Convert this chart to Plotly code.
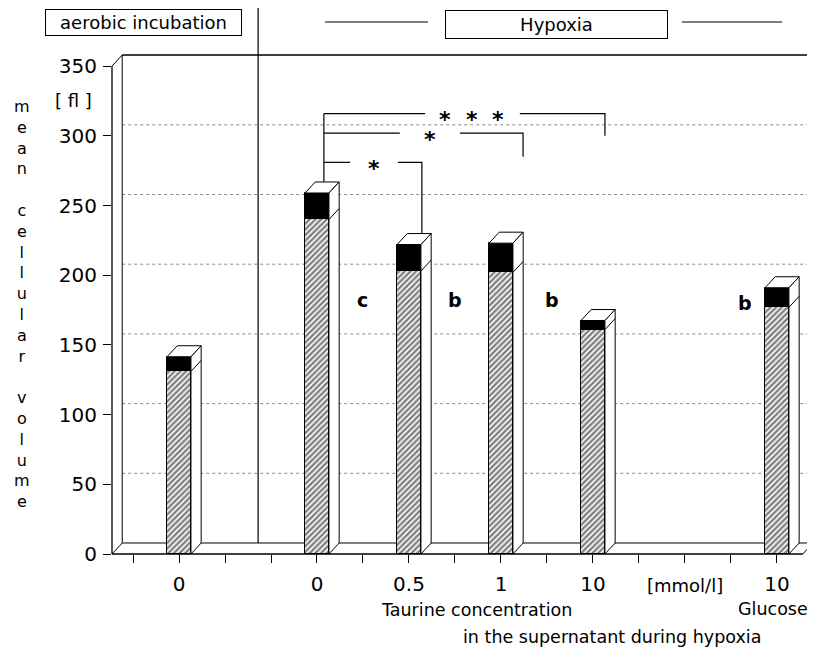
import plotly.graph_objects as go

# ---------------- data ----------------
bar_pos = [1, 4, 6, 8, 10, 14]                 # category slots along the x axis
bar_mean = [131, 240, 203, 202, 161, 177]      # hatched part (mean cell volume, fl)
bar_err = [10.5, 19, 19, 21, 6.5, 14]          # black cap on top of each bar
x_tick_pos = list(range(15))
x_tick_text = ["", "0", "", "", "0", "", "0.5", "", "1", "", "10", "", "", "", "10"]
y_tick_vals = [0, 50, 100, 150, 200, 250, 300, 350]
grid_vals = [50, 100, 150, 200, 250, 300]
letters = ["c", "b", "b", "b"]
letter_x = [5.0, 7.0, 9.1, 13.3]
letter_y = [182, 182, 182, 180]
# significance brackets (from the 0 mmol/l hypoxia bar)
br_left_x = 4.15
br_left_bottom = 267
br_y = [281, 302, 316]
br_right_x = [6.28, 8.48, 10.26]
br_right_bottom = [230, 285, 300]
br_gap = [(4.72, 5.76), (5.80, 7.11), (6.35, 8.41)]
star_x = [[5.24], [6.46], [6.78, 7.37, 7.93]]

# ---------------- geometry / style ----------------
PAGE_OFF = 8                     # default body margin of the html page
W, H = 815 - PAGE_OFF, 652 - PAGE_OFF
L, R, T, B = 112 - PAGE_OFF, 2, 55 - PAGE_OFF, 98
XMIN, XMAX = -0.4565, 14.783
YMAX = 358.0
DX, DY = 0.222, 7.9      # 3-D depth offset
BW = 0.52
FONT = "DejaVu Sans"


def px(x):
    return (x - XMIN) / (XMAX - XMIN)


def py(y):
    return y / YMAX


fig = go.Figure()

# bars (front faces)
fig.add_trace(go.Bar(
    x=bar_pos, y=bar_mean, width=BW,
    marker=dict(color="white", line=dict(color="black", width=1),
                pattern=dict(shape="/", fgcolor="black", bgcolor="white",
                             size=4, solidity=0.6)),
    showlegend=False, hoverinfo="skip"))
fig.add_trace(go.Bar(
    x=bar_pos, y=bar_err, base=bar_mean, width=BW,
    marker=dict(color="black", line=dict(color="black", width=1)),
    showlegend=False, hoverinfo="skip"))

# 3-D top and side faces
for xc, m, e in zip(bar_pos, bar_mean, bar_err):
    top = m + e
    xl, xr = xc - BW / 2, xc + BW / 2
    fig.add_trace(go.Scatter(
        x=[xl, xr, xr + DX, xl + DX, xl], y=[top, top, top + DY, top + DY, top],
        fill="toself", fillcolor="white", mode="lines",
        line=dict(color="black", width=1), showlegend=False, hoverinfo="skip"))
    fig.add_trace(go.Scatter(
        x=[xr, xr, xr + DX, xr + DX, xr], y=[0, top, top + DY, DY, 0],
        fill="toself", fillcolor="white", mode="lines",
        line=dict(color="black", width=1), showlegend=False, hoverinfo="skip"))
    fig.add_trace(go.Scatter(
        x=[xr, xr + DX], y=[m, m + DY], mode="lines",
        line=dict(color="black", width=1), showlegend=False, hoverinfo="skip"))

# significance brackets
bx, by = [br_left_x, br_left_x, None], [br_left_bottom, br_y[-1], None]
for yb, xr_, yd, (g0, g1) in zip(br_y, br_right_x, br_right_bottom, br_gap):
    bx += [br_left_x, g0, None, g1, xr_, xr_, None]
    by += [yb, yb, None, yb, yb, yd, None]
fig.add_trace(go.Scatter(x=bx, y=by, mode="lines", line=dict(color="black", width=1.2),
                         showlegend=False, hoverinfo="skip"))

annotations = []
for yb, xs in zip(br_y, star_x):
    for sx in xs:
        annotations.append(dict(x=sx, y=yb, xref="x", yref="y", text="<b>*</b>",
                                showarrow=False, yshift=-6, xanchor="center", yanchor="middle",
                                font=dict(family=FONT, size=22, color="black")))
for t, lx, ly in zip(letters, letter_x, letter_y):
    annotations.append(dict(x=lx, y=ly, xref="x", yref="y", text="<b>" + t + "</b>",
                            showarrow=False, xanchor="center", yanchor="middle",
                            font=dict(family=FONT, size=19, color="black")))

# ---------------- frame (shapes in paper coords) ----------------
shapes = []


def seg(x0, y0, x1, y1, dash="solid", color="black", width=1):
    shapes.append(dict(type="line", xref="paper", yref="paper",
                       x0=px(x0), y0=py(y0), x1=px(x1), y1=py(y1),
                       line=dict(color=color, width=width, dash=dash), layer="below"))


# back-wall gridlines
for g in grid_vals:
    seg(XMIN + DX, g + DY, XMAX, g + DY, dash="dot", color="#8a8a8a", width=1)
# front y axis + back wall
seg(XMIN, 0, XMIN, 350, width=1.3)
seg(XMIN, 350, XMIN + DX, YMAX)
seg(XMIN + DX, DY, XMIN + DX, YMAX)
seg(XMIN + DX, YMAX, XMAX, YMAX, width=1.3)
seg(XMAX, DY, XMAX, YMAX, width=1.5)
# floor
seg(XMIN, 0, XMAX - DX, 0, width=1.3)
seg(XMIN + DX, DY, XMAX, DY)
seg(XMIN, 0, XMIN + DX, DY)
seg(XMAX - DX, 0, XMAX, DY)


def pp(xp, yp):
    """reference-pixel position -> paper coords of the plot area"""
    return (xp - 112) / 701, (554 - yp) / 499


# aerobic / hypoxia divider
x0_, y0_ = pp(258, 4)
shapes.append(dict(type="line", xref="paper", yref="paper",
                   x0=px(2.72), x1=px(2.72), y0=py(DY), y1=y0_,
                   line=dict(color="black", width=1.2), layer="below"))
# header dashes around "Hypoxia"
for a, b in [(325, 428), (682, 782)]:
    xa, ya = pp(a, 22)
    xb, _ = pp(b, 22)
    shapes.append(dict(type="line", xref="paper", yref="paper",
                       x0=xa, x1=xb, y0=ya, y1=ya,
                       line=dict(color="black", width=1.2)))


def label(txt, xp_, yp_, size, **kw):
    x_, y_ = pp(xp_, yp_)
    d = dict(x=x_, y=y_, xref="paper", yref="paper", text=txt, showarrow=False,
             xanchor="center", yanchor="middle",
             font=dict(family=FONT, size=size, color="black"))
    d.update(kw)
    annotations.append(d)


# header boxes
label("aerobic incubation", 143.5, 22.5, 18, width=191, height=21, borderpad=2,
      bordercolor="black", borderwidth=1, bgcolor="white")
label("Hypoxia", 556.5, 24, 18, width=217, height=23, borderpad=2,
      bordercolor="black", borderwidth=1, bgcolor="white")

# unit and vertical y title
label("[ fl ]", 73, 100, 18)
title_letters = list("mean") + ["\u00a0"] + list("cellular") + ["\u00a0"] + list("volume")
label("<br>".join(title_letters), 22, 303.5, 16)

# x axis captions
label("[mmol/l]", 685, 585, 18)
label("Taurine concentration", 476, 610, 17.5)
label("Glucose", 773, 609, 17.5)
label("in the supernatant during hypoxia", 612, 637, 17.5)

fig.update_layout(
    width=W, height=H, margin=dict(l=L, r=R, t=T, b=B),
    paper_bgcolor="white", plot_bgcolor="white",
    barmode="overlay", bargap=0,
    shapes=shapes, annotations=annotations,
    xaxis=dict(range=[XMIN, XMAX], tickmode="array", tickvals=x_tick_pos,
               ticktext=x_tick_text, ticks="outside", ticklen=8, tickcolor="black",
               tickwidth=1, showgrid=False, zeroline=False, showline=False,
               ticklabelstandoff=4,
               tickfont=dict(family=FONT, size=20, color="black")),
    yaxis=dict(range=[0, YMAX], tickmode="array", tickvals=y_tick_vals,
               ticks="outside", ticklen=8, tickcolor="black", tickwidth=1,
               showgrid=False, zeroline=False, showline=False,
               ticklabelstandoff=2,
               tickfont=dict(family=FONT, size=20, color="black")),
)

fig.write_html("out.html")
